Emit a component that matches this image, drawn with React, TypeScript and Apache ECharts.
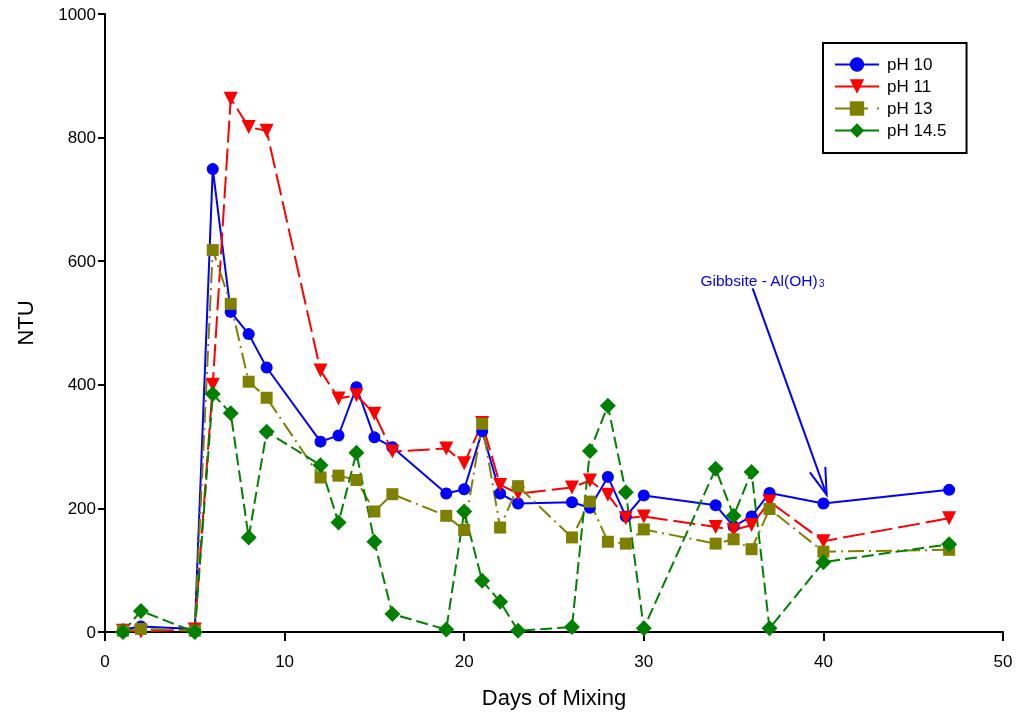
import React, { useEffect, useRef } from "react";
import * as echarts from "echarts";

const days = [1, 2, 5, 6, 7, 8, 9, 12, 13, 14, 15, 16, 19, 20, 21, 22, 23, 26, 27, 28, 29, 30, 34, 35, 36, 37, 40, 47];
const ph10 = [4, 9, 5, 749, 518, 482, 428, 308, 318, 396, 315, 299, 224, 231, 325, 224, 208, 210, 201, 251, 187, 221, 205, 171, 187, 225, 208, 230];
const ph11 = [2, 1, 4, 400, 863, 817, 811, 423, 378, 383, 353, 292, 297, 273, 338, 238, 224, 234, 245, 222, 184, 187, 170, 165, 173, 211, 147, 184];
const ph13 = [2, 5, 2, 618, 531, 405, 379, 250, 253, 246, 195, 223, 188, 165, 337, 169, 236, 153, 211, 146, 143, 166, 143, 150, 134, 199, 130, 133];
const ph145 = [0, 34, 0, 385, 354, 153, 324, 270, 177, 290, 146, 29, 4, 195, 83, 49, 2, 8, 293, 366, 226, 6, 264, 188, 259, 6, 113, 142];

const seriesNames = ["pH 10", "pH 11", "pH 13", "pH 14.5"];
const xTicks = [0, 10, 20, 30, 40, 50];
const yTicks = [0, 200, 400, 600, 800, 1000];

// annotation (data coordinates)
const noteText = "Gibbsite - Al(OH)";
const noteSub = "3";
const noteAt = [36.6, 570];
const arrowFrom = [36.06, 556];
const arrowTo = [40.18, 222];

const FONT = "Liberation Sans, Arial, sans-serif";

function pairs(vals: number[]) {
  return days.map((d, i) => [d, vals[i]]);
}

export default function App() {
  const ref = useRef<HTMLDivElement>(null);
  useEffect(() => {
    if (!ref.current) return;
    const chart = echarts.init(ref.current, null, { renderer: "svg" });
    const mk = (name: string, vals: number[], color: string, symbol: string, size: number, dash: any, extra: any = {}) => ({
      name,
      type: "line",
      data: pairs(vals),
      symbol,
      symbolSize: size,
      itemStyle: { color },
      lineStyle: { color, width: 2, type: dash },
      ...extra,
    });
    chart.setOption({
      animation: false,
      textStyle: { fontFamily: FONT },
      grid: { left: 105, right: 15, top: 14, bottom: 83 },
      xAxis: {
        type: "value",
        min: xTicks[0],
        max: xTicks[xTicks.length - 1],
        interval: 10,
        name: "Days of Mixing",
        nameLocation: "middle",
        nameGap: 54,
        nameTextStyle: { fontSize: 22, color: "#000", fontFamily: FONT },
        axisLine: { show: true, lineStyle: { color: "#000", width: 2 } },
        axisTick: { show: true, length: 9, lineStyle: { color: "#000", width: 2 } },
        axisLabel: { fontSize: 17, color: "#000", margin: 21, fontFamily: FONT },
        splitLine: { show: false },
      },
      yAxis: {
        type: "value",
        min: yTicks[0],
        max: yTicks[yTicks.length - 1],
        interval: 200,
        name: "NTU",
        nameLocation: "middle",
        nameGap: 69,
        nameTextStyle: { fontSize: 22, color: "#000", fontFamily: FONT },
        axisLine: { show: true, lineStyle: { color: "#000", width: 2 } },
        axisTick: { show: true, length: 7, lineStyle: { color: "#000", width: 2 } },
        axisLabel: { fontSize: 17, color: "#000", margin: 9, fontFamily: FONT, formatter: (v: number) => String(v) },
        splitLine: { show: false },
      },
      legend: {
        orient: "vertical",
        left: 823,
        top: 43,
        data: [
          { name: seriesNames[0] },
          { name: seriesNames[1], lineStyle: { type: "solid" } },
          { name: seriesNames[2], lineStyle: { type: [33, 9, 2, 30] } },
          { name: seriesNames[3], lineStyle: { type: "solid" } },
        ],
        itemWidth: 44,
        itemHeight: 18,
        itemGap: 5,
        padding: [13, 20, 14, 11],
        borderColor: "#000",
        borderWidth: 2,
        backgroundColor: "#fff",
        textStyle: { fontSize: 17, color: "#000", fontFamily: FONT, padding: [0, 0, 0, 3] },
      },
      series: [
        mk(seriesNames[0], ph10, "#0000ff", "circle", 12, "solid"),
        mk(seriesNames[1], ph11, "#ff0000", "triangle", 14, [22, 6], { symbolRotate: 180 }),
        mk(seriesNames[2], ph13, "#808000", "rect", 12, [16, 5, 2, 5]),
        mk(seriesNames[3], ph145, "#008000", "diamond", 16, [12, 5]),
      ],
    });

    const p = (c: number[]) => chart.convertToPixel({ gridIndex: 0 }, c) as number[];
    const t = p(noteAt);
    const a0 = p(arrowFrom);
    const a1 = p(arrowTo);
    const ang = Math.atan2(a1[1] - a0[1], a1[0] - a0[0]);
    const L = 28;
    const spread = (17 * Math.PI) / 180;
    const h1 = [a1[0] - L * Math.cos(ang - spread), a1[1] - L * Math.sin(ang - spread)];
    const h2 = [a1[0] - L * Math.cos(ang + spread), a1[1] - L * Math.sin(ang + spread)];
    chart.setOption({
      graphic: [
        {
          type: "text",
          x: t[0],
          y: t[1],
          style: {
            text: "{a|" + noteText + "}{b|" + noteSub + "}",
            align: "center",
            verticalAlign: "middle",
            fill: "#0000ff",
            rich: {
              a: { fontSize: 15.5, fontFamily: FONT, fill: "#0000ff", lineHeight: 18, verticalAlign: "bottom" },
              b: { fontSize: 10, fontFamily: FONT, fill: "#0000ff", lineHeight: 18, verticalAlign: "bottom", padding: [9, 0, 0, 1] },
            },
          },
        },
        {
          type: "line",
          shape: { x1: a0[0], y1: a0[1], x2: a1[0], y2: a1[1] },
          style: { stroke: "#0000ff", lineWidth: 2 },
        },
        {
          type: "polyline",
          shape: { points: [h1, a1, h2] },
          style: { stroke: "#0000ff", lineWidth: 2, fill: null },
        },
      ],
    });
    return () => chart.dispose();
  }, []);
  return <div ref={ref} style={{ position: "fixed", left: 0, top: 0, width: 1018, height: 715 }} />;
}
